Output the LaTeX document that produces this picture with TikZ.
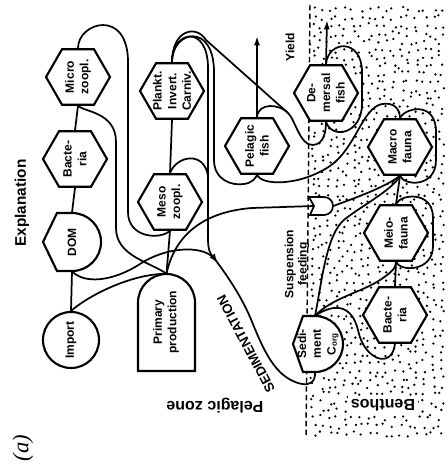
\documentclass[tikz,border=0pt]{standalone}
\usepackage{fontspec}
\setmainfont{Liberation Sans}
\newfontfamily\tagfont{Liberation Serif}
\usetikzlibrary{shapes.geometric,arrows.meta,decorations.markings}
\pgfdeclarelayer{dotlayer}
\pgfdeclarelayer{linklayer}
\pgfsetlayers{dotlayer,linklayer,main}

\begin{document}
\begin{tikzpicture}[x=0.75pt,y=-0.75pt,
  every node/.style={inner sep=0pt},
  flow/.style={line width=1.3pt,line cap=round,line join=round},
  shapeline/.style={draw,line width=1.6pt,fill=white,line join=miter},
  hex/.style={shapeline,regular polygon,regular polygon sides=6,minimum size=48pt},
  lab/.style={font=\fontsize{9}{11}\selectfont\bfseries,align=center,rotate=90},
  yieldarrow/.style={-{Latex[length=7pt,width=4.5pt]}},
  zonelabel/.style={font=\fontsize{12}{14}\selectfont\bfseries,rotate=180},
]
\useasboundingbox (0,0) rectangle (448,468);

% ---------- benthic zone: stippled ground and dashed boundary ----------
\begin{pgfonlayer}{dotlayer}
  \pgfmathsetseed{4711}
  \foreach \i in {0,...,16}{
    \foreach \j in {0,...,53}{
      \pgfmathsetmacro{\dx}{313+8*\i+6*(rnd-0.5)}
      \pgfmathsetmacro{\dy}{10+8*\j+6*(rnd-0.5)}
      \fill (\dx,\dy) circle[radius=0.95pt];
    }
  }
  \coordinate (bndtop) at (310,5);
  \coordinate (bndbot) at (306,436);
  \draw[line width=1.1pt,dash pattern=on 4pt off 2.5pt] (bndtop) -- (bndbot);
\end{pgfonlayer}

% ---------- pelagic compartments ----------
\node[hex,label={[lab]center:{Micro\\zoopl.}}] (micro) at (78,77) {};
\node[hex,label={[lab]center:{Bacte-\\ria}}] (bactp) at (75,159) {};
\node[hex,label={[lab]center:{Plankt.\\Invert.\\Carniv.}}] (plank) at (172,91) {};
\node[hex,label={[lab]center:{Meso\\zoopl.}}] (meso) at (170,202) {};
\node[hex,label={[lab]center:{Pelagic\\fish}}] (pfish) at (257,146) {};
\node[hex,label={[lab]center:{De-\\mersal\\fish}}] (dfish) at (326,93) {};

% ---------- benthic compartments ----------
\node[hex,label={[lab]center:{Macro\\fauna}}] (macro) at (400,147) {};
\node[hex,label={[lab]center:{Meio-\\fauna}}] (meio) at (396,233) {};
\node[hex,label={[lab]center:{Bacte-\\ria}}] (bactb) at (395,315) {};

% import (circle)
\node[shapeline,circle,minimum size=42pt] (import) at (71,340) {};
\node[lab] (import-t) at (import) {Import};

% DOM: half hexagon, half circle
\node[circle,minimum size=43.5pt] (dom) at (72,242) {};
\draw[shapeline] (72,213) .. controls (88,213) and (101,226) .. (101,242)
  .. controls (101,258) and (88,271) .. (72,271) -- (57,271) -- (43,242) -- (57,213) -- cycle;
\node[lab] (dom-t) at (dom) {DOM};

% primary production: box with rounded top
\node[minimum width=42.75pt,minimum height=72.75pt] (pp) at (166.5,322.5) {};
\draw[shapeline] (138,371) -- (138,302.5) .. controls (138,286.8) and (150.8,274) .. (166.5,274)
  .. controls (182.2,274) and (195,286.8) .. (195,302.5) -- (195,371) -- cycle;
\node[lab] (pp-t) at (166,322) {Primary\\production};

% sediment organic carbon
\node[circle,minimum size=42pt] (sed) at (315,344) {};
\draw[shapeline] (315,316) .. controls (330.5,316) and (343,328.5) .. (343,344)
  .. controls (343,359.5) and (330.5,372) .. (315,372) -- (303,372) -- (293,344) -- (303,316) -- cycle;
\node[lab] (sed-t) at (318,344) {Sedi-\\ment\\C\textsubscript{org}};

% suspension feeders
\node[minimum width=18pt,minimum height=13.5pt] (susp) at (321,206) {};
\coordinate (suspin) at (314,206);
\draw[shapeline,line width=1.3pt] (309,197) -- (324,197) .. controls (329,197) and (333,201) .. (333,206)
  .. controls (333,211) and (329,215) .. (324,215) -- (310,215) -- (suspin) -- cycle;

% free ends
\coordinate (S0) at (214,258);
\coordinate (J1) at (288,113);
\coordinate (yieldp) at (257,36);
\coordinate (yieldd) at (327,20);

% ---------- flows ----------
\begin{pgfonlayer}{linklayer}
  \draw[flow] (import.north) -- (dom.south);
  \draw[flow] (dom.north) -- (bactp.south);
  \draw[flow] (bactp.north) -- (micro.south);
  \draw[flow] (plank.south) -- (meso.north);
  \draw[flow] (meso.south) -- (pp.north);
  \draw[flow] (bactb.north) -- (meio.south);
  \draw[flow] (meio.north) -- (macro.south);

  % microzooplankton
  \draw[flow] (micro.south) .. controls (84,112) and (116,112) .. (116,142) -- (116,228)
    .. controls (116,256) and (150,262) .. (pp.north);
  \draw[flow] (micro.north) .. controls (78,22) and (128,8) .. (128,62) -- (128,212)
    .. controls (128,238) and (160,240) .. (meso.south);

  % planktonic invertebrate carnivores
  \draw[flow] (plank.north) .. controls (172,30) and (208,24) .. (208,68) -- (208,238)
    .. controls (208,250) and (210,254) .. (S0);
  \draw[flow] (plank.north) .. controls (172,30) and (196,24) .. (206,40) -- (J1)
    .. controls (295,119) and (300,146) .. (313,145) .. controls (324,144) and (326,132) .. (dfish.south);
  \draw[flow] (plank.north) .. controls (172,30) and (214,22) .. (214,72) -- (214,160)
    .. controls (214,180) and (232,186) .. (244,184) .. controls (252,183) and (256,178) .. (pfish.south);
  \draw[flow] (meso.north) .. controls (176,156) and (204,150) .. (208,176);

  % fish
  \draw[flow] (pfish.north) .. controls (258,102) and (280,104) .. (J1);
  \draw[flow,yieldarrow] (pfish.north) -- (yieldp);
  \draw[flow,yieldarrow] (dfish.north) -- (yieldd);
  \draw[flow] (dfish.north) .. controls (328,40) and (362,38) .. (362,72) -- (362,104)
    .. controls (362,134) and (332,140) .. (dfish.south);
  \draw[flow] (pfish.south) .. controls (262,186) and (300,186) .. (330,166)
    .. controls (356,148) and (362,108) .. (382,104) .. controls (395,102) and (400,110) .. (macro.north);

  % benthos
  \draw[flow] (macro.north) .. controls (404,108) and (436,100) .. (436,132) -- (436,160)
    .. controls (436,188) and (404,186) .. (macro.south);
  \draw[flow] (meio.north) .. controls (400,194) and (433,190) .. (433,218) -- (433,246)
    .. controls (433,272) and (400,272) .. (meio.south);
  \draw[flow] (susp.east) .. controls (352,199) and (384,188) .. (macro.south);
  \draw[flow] (pp.north) .. controls (174,238) and (200,212) .. (252,208) -- (suspin);
  \draw[flow] (sed.north) .. controls (322,282) and (326,234) .. (345,219)
    .. controls (366,203) and (392,190) .. (macro.south);
  \draw[flow] (sed.north) .. controls (332,298) and (362,292) .. (380,280)
    .. controls (392,272) and (396,268) .. (meio.south);
  \draw[flow] (sed.north) .. controls (336,302) and (352,306) .. (358,330)
    .. controls (364,360) and (392,370) .. (bactb.south);

  % DOM, import
  \draw[flow] (dom.south) .. controls (84,284) and (112,282) .. (140,264)
    .. controls (164,248) and (200,244) .. (S0);
  \draw[flow] (import.north) .. controls (88,296) and (130,274) .. (pp.north);

  % sedimentation
  \draw[flow,postaction={decorate},
    decoration={markings,mark=at position 0.035 with {\arrow{Latex[length=7pt,width=5pt]}}}]
    (S0) .. controls (226,274) and (240,294) .. (250,317)
    .. controls (258,336) and (266,358) .. (280,372)
    .. controls (292,384) and (316,392) .. (sed.south);
\end{pgfonlayer}

% ---------- labels ----------
\node[rotate=90,font=\fontsize{11.5}{14}\selectfont\bfseries] (expl) at (22,203) {Explanation};
\node[rotate=90,font=\tagfont\fontsize{17}{20}\selectfont\itshape] (tag) at (23,448) {(a)};
\node[rotate=90,font=\fontsize{9}{11}\selectfont\bfseries] (yieldlab) at (290,47) {Yield};
\node[lab,font=\fontsize{9}{10}\selectfont\bfseries] (susplab) at (297,264) {Suspension\\feeding};
\node[rotate=118,font=\fontsize{10}{12}\selectfont\bfseries] (sedlab) at (246,344) {SEDIMENTATION};
\node[zonelabel] (pelagic) at (215,406) {Pelagic zone};
\node[zonelabel,fill=white,inner sep=2pt] (benthos) at (383,405) {Benthos};
\end{tikzpicture}
\end{document}
